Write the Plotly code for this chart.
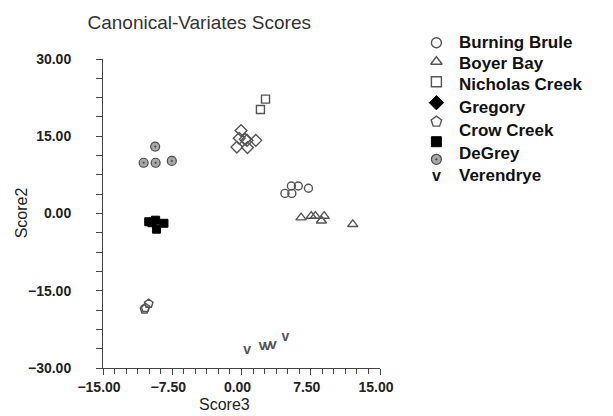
import plotly.graph_objects as go

# ---- canonical-variates scores (Score3, Score2) per site group ----
brule_x = [4.7, 5.45, 5.4, 6.15, 7.25]
brule_y = [3.9, 3.9, 5.35, 5.35, 4.9]

boyer_x = [6.45, 7.55, 8.0, 8.95, 8.65, 12.05]
boyer_y = [-0.8, -0.5, -0.5, -0.5, -1.4, -2.1]

nicholas_x = [2.05, 2.6]
nicholas_y = [20.2, 22.2]

gregory_x = [-0.05, -0.25, 0.4, 0.6, 1.55, -0.5, 0.65]
gregory_y = [16.1, 14.6, 14.4, 14.2, 14.2, 12.9, 12.8]

crow_x = [-10.5, -10.4, -10.05]
crow_y = [-18.6, -18.3, -17.5]

degrey_x = [-10.05, -9.7, -9.3, -8.4, -9.2]
degrey_y = [-1.6, -1.8, -1.3, -1.9, -3.05]

dotted_x = [-9.35, -10.6, -9.3, -7.55]
dotted_y = [13.0, 9.85, 9.85, 10.2]

verendrye_x = [0.6, 2.25, 2.8, 3.4, 4.75]
verendrye_y = [-26.6, -25.9, -25.9, -25.7, -24.1]

legend_labels = ["Burning Brule", "Boyer Bay", "Nicholas Creek", "Gregory",
                 "Crow Creek", "DeGrey", "Verendrye"]

x_ticks = [-15, -7.5, 0, 7.5, 15]
y_ticks = [-30, -15, 0, 15, 30]

FONT = "Liberation Sans, Arial, sans-serif"
GRAY = "#555555"
OPEN = dict(color=GRAY, line=dict(color=GRAY, width=1.4))
FILLED = dict(color="#000000", line=dict(color="#000000", width=1))
DOT_FILL = dict(color="#a8a8a8", line=dict(color="#a8a8a8", width=0))
DOT_RING = dict(color="#4a4a4a", line=dict(color="#4a4a4a", width=1.2))

fig = go.Figure()


def add_markers(x, y, symbol, size, style, xa="x", ya="y"):
    fig.add_trace(go.Scatter(x=x, y=y, mode="markers", xaxis=xa, yaxis=ya, showlegend=False,
                             marker=dict(symbol=symbol, size=size, **style)))


add_markers(brule_x, brule_y, "circle-open", 8, OPEN)
add_markers(boyer_x, boyer_y, "triangle-up-open", 9, OPEN)
add_markers(nicholas_x, nicholas_y, "square-open", 8, OPEN)
add_markers(gregory_x, gregory_y, "diamond-open", 9, OPEN)
add_markers(crow_x, crow_y, "pentagon-open", 9, OPEN)
add_markers(degrey_x, degrey_y, "square", 8, FILLED)
add_markers(dotted_x, dotted_y, "circle", 9, DOT_FILL)
add_markers(dotted_x, dotted_y, "circle-open-dot", 9, DOT_RING)
fig.add_trace(go.Scatter(x=verendrye_x, y=verendrye_y, mode="text", text=["v"] * len(verendrye_x),
                         textfont=dict(family=FONT, size=14, color=GRAY, weight="bold"),
                         showlegend=False))

# ---- hand-built key on a second, hidden axis pair (pixel-like units) ----
KX = 446
sym_rows = [42.7, 61.7, 81.7, 102.7, 121.7, 141.7, 159.3, 176.7]
label_rows = [42.7, 63.3, 84.5, 107.0, 130.0, 153.0, 175.0]
add_markers([KX], [sym_rows[0]], "circle-open", 10, OPEN, "x2", "y2")
add_markers([KX], [sym_rows[1]], "triangle-up-open", 10, OPEN, "x2", "y2")
add_markers([KX], [sym_rows[2]], "square-open", 10, OPEN, "x2", "y2")
add_markers([KX], [sym_rows[3]], "diamond", 11, FILLED, "x2", "y2")
add_markers([KX], [sym_rows[4]], "pentagon-open", 11, OPEN, "x2", "y2")
add_markers([KX], [sym_rows[5]], "square", 10, FILLED, "x2", "y2")
add_markers([KX], [sym_rows[6]], "circle", 10, DOT_FILL, "x2", "y2")
add_markers([KX], [sym_rows[6]], "circle-open-dot", 10, DOT_RING, "x2", "y2")
fig.add_trace(go.Scatter(x=[KX], y=[sym_rows[7]], mode="text", text=["v"], xaxis="x2", yaxis="y2",
                         textfont=dict(family=FONT, size=16, color="#111111", weight="bold"),
                         showlegend=False))

annotations = []
for lab, row in zip(legend_labels, label_rows):
    annotations.append(dict(x=467, y=row, xref="x2", yref="y2", text=lab, showarrow=False,
                            xanchor="left", yanchor="middle",
                            font=dict(family=FONT, size=17, color="#111111", weight="bold")))

# axis titles
W, H = 613, 416
ML, MR, MT, MB = 103, 10, 20, 48
pw, ph = W - ML - MR, H - MT - MB
annotations.append(dict(x=(228 - ML) / pw, y=(H - MB - 404) / ph, xref="paper", yref="paper",
                        text="Score3", showarrow=False, xanchor="center", yanchor="middle",
                        font=dict(family=FONT, size=16, color="#222222")))
annotations.append(dict(x=(19 - ML) / pw, y=(H - MB - 213) / ph, xref="paper", yref="paper",
                        text="Score2", showarrow=False, textangle=-90, xanchor="center",
                        yanchor="middle", font=dict(family=FONT, size=16, color="#222222")))

axis_common = dict(showgrid=False, zeroline=False, showline=True, linecolor="#444444",
                   linewidth=1, ticks="outside", ticklen=6, tickcolor="#444444",
                   tickformat=".2f", tickfont=dict(family=FONT, size=14, color="#222222",
                                                   weight="bold"))

fig.update_layout(
    width=W, height=H,
    margin=dict(l=ML, r=MR, t=MT, b=MB),
    paper_bgcolor="white", plot_bgcolor="white",
    title=dict(text="Canonical-Variates Scores", x=(202 - ML) / pw, xref="paper",
               xanchor="center", y=1 - 22 / H, yref="container", yanchor="middle",
               font=dict(family=FONT, size=19, color="#333333")),
    xaxis=dict(domain=[0, 285 / pw], range=[-15, 15], tickvals=x_ticks, ticklabelshift=-4,
               minor=dict(dtick=1.25, tick0=-15, ticks="outside", ticklen=5, tickcolor="#444444"),
               **axis_common),
    yaxis=dict(domain=[0, 309 / ph], range=[-30, 30], tickvals=y_ticks, ticklabelstandoff=22,
               minor=dict(dtick=3.75, tick0=-30, ticks="outside", ticklen=6, tickcolor="#444444"),
               **axis_common),
    xaxis2=dict(domain=[(430 - ML) / pw, 1], range=[430, 603], visible=False, anchor="y2"),
    yaxis2=dict(domain=[(H - MB - 200) / ph, (H - MB - 25) / ph], range=[200, 25], visible=False,
                anchor="x2"),
    annotations=annotations,
    showlegend=False,
)

fig.write_html("out.html")
